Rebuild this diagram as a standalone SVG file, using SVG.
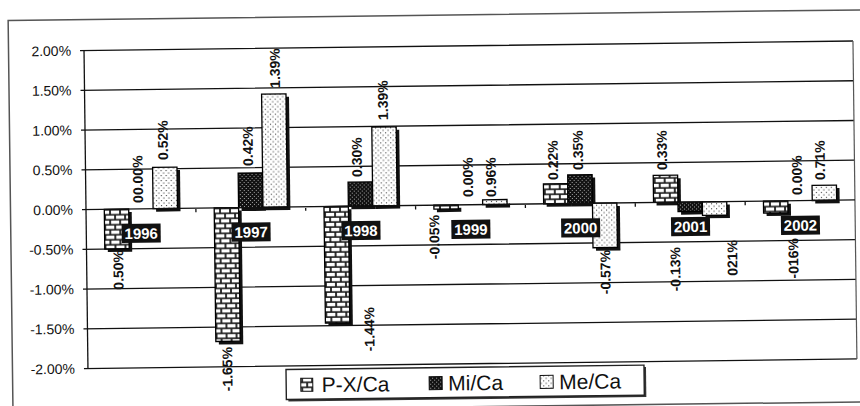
<svg xmlns="http://www.w3.org/2000/svg" width="860" height="406" viewBox="0 0 860 406">
<defs>
<pattern id="brick" width="10" height="10" patternUnits="userSpaceOnUse">
<rect width="10" height="10" fill="#1a1a1a"/>
<rect x="0.9" y="0.9" width="8.2" height="3.4" fill="#fff"/>
<rect x="-4.1" y="5.9" width="8.2" height="3.4" fill="#fff"/>
<rect x="5.9" y="5.9" width="8.2" height="3.4" fill="#fff"/>
</pattern>
<pattern id="dark" width="4" height="4" patternUnits="userSpaceOnUse">
<rect width="4" height="4" fill="#111"/>
<rect x="0" y="0" width="1" height="1" fill="#aaa"/>
<rect x="2" y="2" width="1" height="1" fill="#aaa"/>
</pattern>
<pattern id="light" width="5" height="5" patternUnits="userSpaceOnUse">
<rect width="5" height="5" fill="#fff"/>
<rect x="1" y="1" width="1.1" height="1.1" fill="#444"/>
<rect x="3.5" y="3.5" width="1.1" height="1.1" fill="#444"/>
</pattern>
<style>
text{font-family:"Liberation Sans",Arial,sans-serif;fill:#111}
.grid{stroke:#111;stroke-width:1.3;fill:none}
.ax{font-size:14px;text-anchor:end}
.vl{font-size:14px;font-weight:bold}
.vp{text-anchor:start}
.vn{text-anchor:end}
.bar{stroke:#000;stroke-width:1.3}
.sh{fill:#111}
.px{fill:url(#brick)}
.mi{fill:url(#dark)}
.me{fill:url(#light)}
.yb{fill:#111}
.yt{font-size:15px;font-weight:bold;fill:#fff;text-anchor:middle}
.lg{font-size:21px}
</style>
</defs>
<rect width="860" height="406" fill="#fff"/>
<g transform="rotate(-0.71 86 210)">
<rect x="10.5" y="19.5" width="880" height="392" fill="none" stroke="#555" stroke-width="1.5"/>
<g id="gridlines">
<path class="grid" d="M82 50.5H855M82 90.25H855M82 130H855M82 169.75H855M82 249.25H855M82 289H855M82 328.75H855M82 368.5H855"/>
<path d="M855 50.5V368.5" stroke="#555" stroke-width="1.2"/>
<path class="grid" d="M86 50.5V368.5"/>
</g>
<g id="yaxis">
<text class="ax" x="73" y="55.5">2.00%</text>
<text class="ax" x="73" y="95.2">1.50%</text>
<text class="ax" x="73" y="135">1.00%</text>
<text class="ax" x="73" y="174.7">0.50%</text>
<text class="ax" x="73" y="214.5">0.00%</text>
<text class="ax" x="73" y="254.2">-0.50%</text>
<text class="ax" x="73" y="294">-1.00%</text>
<text class="ax" x="73" y="333.7">-1.50%</text>
<text class="ax" x="73" y="373.5">-2.00%</text>
</g>
<g id="y1996">
<rect class="sh" x="107.3" y="212.5" width="24.4" height="39.75"/>
<rect class="bar px" x="104.3" y="209.5" width="24.4" height="39.75"/>
<rect class="sh" x="156.1" y="171.2" width="24.4" height="41.3"/>
<rect class="bar me" x="153.1" y="168.2" width="24.4" height="41.3"/>
<text class="vl vn" transform="translate(122.5 250.4) rotate(-90)">0.50%</text>
<text class="vl vp" transform="translate(143.1 203.6) rotate(-90)">00.00%</text>
<text class="vl vp" transform="translate(168.6 161) rotate(-90)">0.52%</text>
<rect class="yb" x="121.4" y="224.5" width="39" height="19"/>
<text class="yt" x="140.9" y="239.5">1996</text>
</g>
<g id="y1997">
<rect class="sh" x="217.2" y="212.5" width="24.4" height="133.6"/>
<rect class="bar px" x="214.2" y="209.5" width="24.4" height="133.6"/>
<rect class="sh" x="241.6" y="178" width="24.4" height="35"/>
<rect class="bar mi" x="238.6" y="175" width="24.4" height="34.5"/>
<rect class="sh" x="266" y="99.3" width="24.4" height="113.2"/>
<rect class="bar me" x="263" y="96.3" width="24.4" height="113.2"/>
<text class="vl vn" transform="translate(230.3 348.7) rotate(-90)">-1.65%</text>
<text class="vl vp" transform="translate(253.5 168) rotate(-90)">0.42%</text>
<text class="vl vp" transform="translate(281.5 90.3) rotate(-90)">1.39%</text>
<rect class="yb" x="231.3" y="224.5" width="39" height="19"/>
<text class="yt" x="250.8" y="239.5">1997</text>
</g>
<g id="y1998">
<rect class="sh" x="327" y="212.5" width="24.4" height="116.6"/>
<rect class="bar px" x="324" y="209.5" width="24.4" height="116.6"/>
<rect class="sh" x="351.4" y="188.4" width="24.4" height="24.1"/>
<rect class="bar mi" x="348.4" y="185.4" width="24.4" height="24.1"/>
<rect class="sh" x="375.8" y="133.7" width="24.4" height="78.8"/>
<rect class="bar me" x="372.8" y="130.7" width="24.4" height="78.8"/>
<text class="vl vn" transform="translate(372.8 310.5) rotate(-90)">-1.44%</text>
<text class="vl vp" transform="translate(362.4 180.4) rotate(-90)">0.30%</text>
<text class="vl vp" transform="translate(389.1 123.7) rotate(-90)">1.39%</text>
<rect class="yb" x="341.2" y="224.5" width="39" height="19"/>
<text class="yt" x="360.7" y="239.5">1998</text>
</g>
<g id="y1999">
<rect class="sh" x="436.9" y="212.5" width="24.4" height="4"/>
<rect class="bar px" x="433.9" y="209.5" width="24.4" height="4"/>
<rect class="sh" x="485.7" y="208.7" width="24.4" height="4"/>
<rect class="bar me" x="482.7" y="204.7" width="24.4" height="4.8"/>
<text class="vl vn" transform="translate(438.9 219.3) rotate(-90)">-0.05%</text>
<text class="vl vp" transform="translate(473.2 201.7) rotate(-90)">0.00%</text>
<text class="vl vp" transform="translate(496.2 202) rotate(-90)">0.96%</text>
<rect class="yb" x="451.1" y="224.5" width="39" height="19"/>
<text class="yt" x="470.6" y="239.5">1999</text>
</g>
<g id="y2000">
<rect class="sh" x="546.7" y="192.6" width="24.4" height="19.9"/>
<rect class="bar px" x="543.7" y="189.6" width="24.4" height="19.9"/>
<rect class="sh" x="571.1" y="183.9" width="24.4" height="28.6"/>
<rect class="bar mi" x="568.1" y="180.9" width="24.4" height="28.6"/>
<rect class="sh" x="595.5" y="212.5" width="24.4" height="44.5"/>
<rect class="bar me" x="592.5" y="209.5" width="24.4" height="44.5"/>
<text class="vl vn" transform="translate(609.5 256.4) rotate(-90)">-0.57%</text>
<text class="vl vp" transform="translate(558.4 185.8) rotate(-90)">0.22%</text>
<text class="vl vp" transform="translate(583.5 176.1) rotate(-90)">0.35%</text>
<rect class="yb" x="560.9" y="224.5" width="39" height="19"/>
<text class="yt" x="580.4" y="239.5">2000</text>
</g>
<g id="y2001">
<rect class="sh" x="656.6" y="185.5" width="24.4" height="27"/>
<rect class="bar px" x="653.6" y="182.5" width="24.4" height="27"/>
<rect class="sh" x="681" y="212.5" width="24.4" height="9.5"/>
<rect class="bar mi" x="678" y="209.5" width="24.4" height="9.5"/>
<rect class="sh" x="705.4" y="212.5" width="24.4" height="13.5"/>
<rect class="bar me" x="702.4" y="209.5" width="24.4" height="13.5"/>
<text class="vl vn" transform="translate(679.5 254.3) rotate(-90)">-0.13%</text>
<text class="vl vn" transform="translate(736.6 248) rotate(-90)">021%</text>
<text class="vl vp" transform="translate(667.5 177.1) rotate(-90)">0.33%</text>
<rect class="yb" x="670.8" y="224.5" width="39" height="19"/>
<text class="yt" x="690.3" y="239.5">2001</text>
</g>
<g id="y2002">
<rect class="sh" x="766.5" y="212.5" width="24.4" height="12"/>
<rect class="bar px" x="763.5" y="209.5" width="24.4" height="12"/>
<rect class="sh" x="815.3" y="197.4" width="24.4" height="15.1"/>
<rect class="bar me" x="812.3" y="194.4" width="24.4" height="15.1"/>
<text class="vl vn" transform="translate(797.6 246.8) rotate(-90)">-016%</text>
<text class="vl vp" transform="translate(802.2 203.8) rotate(-90)">0.00%</text>
<text class="vl vp" transform="translate(825.4 189.1) rotate(-90)">0.71%</text>
<rect class="yb" x="780.7" y="224.5" width="39" height="19"/>
<text class="yt" x="800.2" y="239.5">2002</text>
</g>
<g id="zeroaxis">
<path class="grid" d="M82 209.5H855M195.9 209.5V213.5M305.7 209.5V213.5M415.6 209.5V213.5M525.4 209.5V213.5M635.3 209.5V213.5M745.2 209.5V213.5"/>
</g>
<g id="legend">
<rect x="286" y="374" width="358" height="30" fill="#333"/>
<rect x="284" y="372" width="358" height="30" fill="#fff" stroke="#222" stroke-width="1.4"/>
<rect x="298.6" y="381" width="12" height="13" class="px" stroke="#111" stroke-width="1"/>
<text class="lg" x="319.6" y="395">P-X/Ca</text>
<rect x="427" y="381" width="13" height="13" class="mi" stroke="#111" stroke-width="1"/>
<text class="lg" x="446" y="395">Mi/Ca</text>
<rect x="538" y="381" width="13" height="13" class="me" stroke="#111" stroke-width="1"/>
<text class="lg" x="557" y="395">Me/Ca</text>
</g>
</g>
</svg>
